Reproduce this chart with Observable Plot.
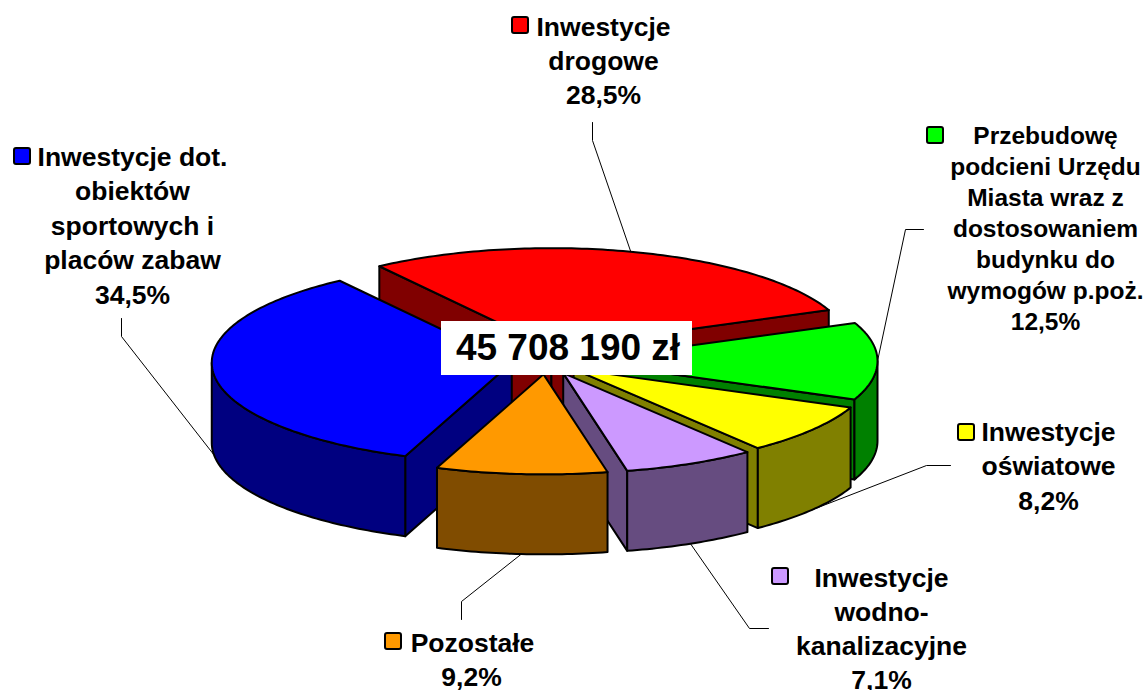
<!DOCTYPE html>
<html>
<head>
<meta charset="utf-8">
<script src="https://cdn.jsdelivr.net/npm/d3@7"></script>
<script src="https://cdn.jsdelivr.net/npm/@observablehq/plot@0.6"></script>
<style>html,body{margin:0;padding:0;background:#fff}svg{display:block}</style>
</head>
<body>
<div id="chart"></div>
<script>
// Data
const names = ["Inwestycje drogowe","Przebudowę podcieni","Inwestycje oświatowe","Inwestycje wodno-kanalizacyjne","Pozostałe","Inwestycje dot. obiektów"];
const shares = [28.5, 12.5, 8.2, 7.1, 9.2, 34.5];
const topColors = ["#ff0000","#00ff00","#ffff00","#cc99ff","#ff9900","#0000ff"];
const sideColors = ["#800000","#008000","#808000","#664c80","#804c00","#000080"];
const total = "45 708 190 zł";

// Label text (in slice order)
const labelLines = [
  ["Inwestycje","drogowe","28,5%"],
  ["Przebudowę","podcieni Urzędu","Miasta wraz z","dostosowaniem","budynku do","wymogów p.poż.","12,5%"],
  ["Inwestycje","oświatowe","8,2%"],
  ["Inwestycje","wodno-","kanalizacyjne","7,1%"],
  ["Pozostałe","9,2%"],
  ["Inwestycje dot.","obiektów","sportowych i","placów zabaw","34,5%"]
];
// Label layout
const labelCenterX = [603, 1045, 1048, 881, 471, 132];
const firstLineX   = [603, 1045, 1048, 881, 472, 132];
const firstLineY   = [27, 136, 432, 578, 643, 157];
const lineStep     = [34, 31, 34.5, 34, 34, 34.5];
const fontSizes    = [26.5, 24.5, 26.5, 26.5, 26.5, 26.5];
const swatchX      = [520, 935, 966, 780, 393, 22];
const swatchY      = [25, 135, 432, 576, 641, 156];
const leaderKnees  = [
  [[592,122],[592,140]],
  [[923,229],[905,229]],
  [[950,465],[926,465]],
  [[768,628],[749,628]],
  [[461,619],[461,601]],
  [[121,318],[121,336]]
];
const leaderRadius = [0.96, 1, 1, 1, 1, 1];
const leaderDrop   = [0, 0, 1, 1, 1, 1];
const sliceNudgeX  = [-2, 0, 3, 5, 2, 1];

// Pie model
const cx = 543.5, cy = 360.5, R = 300, RY = 100, depth = 80, explode = 33.5, startDeg = -35;
const rad = d => d * Math.PI / 180;
const rim = (a, θ, f = 1, d = 0) => ({x: a.x + R * f * Math.sin(rad(θ)), y: a.y - RY * f * Math.cos(rad(θ)) + d});

let acc = startDeg;
const slices = shares.map((s, i) => {
  const a0 = acc, a1 = acc + s * 3.6; acc = a1;
  const mid = (a0 + a1) / 2;
  const apex = {x: cx + explode * Math.sin(rad(mid)) + sliceNudgeX[i], y: cy - explode / 2.5 * Math.cos(rad(mid))};
  return {i, a0, a1, mid, apex};
});
const close = p => [...p, p[0]];
const arc = (a, from, to, d = 0) => {
  const n = Math.max(2, Math.ceil(Math.abs(to - from)));
  return d3.range(n + 1).map(k => rim(a, from + (to - from) * k / n, 1, d));
};
function facesOf(s) {
  const f = [];
  const {apex: a, a0, a1} = s;
  const low = {x: a.x, y: a.y + depth};
  const wall = θ => close([a, rim(a, θ), rim(a, θ, 1, depth), low]);
  if (Math.cos(rad(a0 - 90)) < 0) f.push({pts: wall(a0), fill: sideColors[s.i]});
  if (Math.cos(rad(a1 + 90)) < 0) f.push({pts: wall(a1), fill: sideColors[s.i]});
  // front part of the outer wall only
  const lo = Math.max(a0, 90), hi = Math.min(a1, 270);
  if (lo < hi) f.push({pts: close([...arc(a, lo, hi), ...arc(a, hi, lo, depth)]), fill: sideColors[s.i]});
  f.push({pts: close([a, ...arc(a, a0, a1)]), fill: topColors[s.i]});
  return f;
}
const paintOrder = [0, 5, 1, 2, 3, 4];
const faces = paintOrder.flatMap(i => facesOf(slices[i]));

const leaders = slices.map(s => [...leaderKnees[s.i], rim(s.apex, s.mid, leaderRadius[s.i], leaderDrop[s.i] * depth)]
  .map(p => Array.isArray(p) ? {x: p[0], y: p[1]} : p));

const textRows = labelLines.flatMap((lines, i) => lines.map((t, k) => ({
  t,
  x: k === 0 ? firstLineX[i] : labelCenterX[i],
  y: firstLineY[i] + k * lineStep[i],
  size: fontSizes[i]
})));

const font = "'Liberation Sans', Arial, sans-serif";
const marks = [
  ...leaders.map(l => Plot.line(l, {x: "x", y: "y", stroke: "#000", strokeWidth: 1})),
  ...faces.map(f => Plot.line(f.pts, {x: "x", y: "y", fill: f.fill, stroke: "#000", strokeWidth: 2, strokeLinejoin: "round"})),
  Plot.rect([{x1: 441, x2: 692, y1: 321, y2: 375}], {x1: "x1", x2: "x2", y1: "y1", y2: "y2", fill: "#fff"}),
  Plot.text([total], {x: 567.5, y: 348, text: d => d, fontSize: 37, fontWeight: "bold", fontFamily: font, fill: "#000", lineAnchor: "middle"}),
  Plot.rect(slices, {
    x1: d => swatchX[d.i] - 8, x2: d => swatchX[d.i] + 8,
    y1: d => swatchY[d.i] - 8, y2: d => swatchY[d.i] + 8,
    fill: d => topColors[d.i], stroke: "#000", strokeWidth: 2, rx: 2
  }),
  ...d3.groups(textRows, d => d.size).map(([size, rows]) => Plot.text(rows, {
    x: "x", y: "y", text: "t", fontSize: size, fontWeight: "bold", fontFamily: font, fill: "#000", lineAnchor: "middle", textAnchor: "middle"
  }))
];

document.getElementById("chart").append(Plot.plot({
  width: 1144, height: 690, margin: 0,
  x: {domain: [0, 1144], range: [0, 1144], axis: null},
  y: {domain: [0, 690], range: [0, 690], axis: null},
  style: {background: "#fff"},
  marks
}));
</script>
</body>
</html>
